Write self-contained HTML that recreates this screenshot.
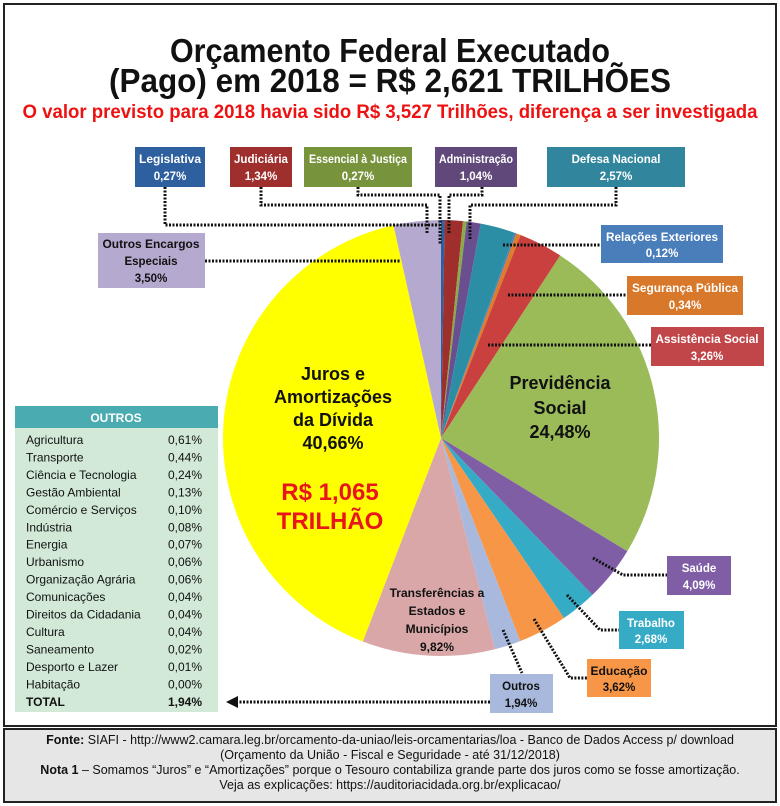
<!DOCTYPE html>
<html><head><meta charset="utf-8"><style>
html,body{margin:0;padding:0;background:#fff;}
svg{display:block;}
.c{font-family:"Liberation Sans Narrow","Liberation Sans",sans-serif;}
.s{font-family:"Liberation Sans",sans-serif;}
</style></head><body>
<svg id="sv" width="780" height="806" viewBox="0 0 780 806" xmlns="http://www.w3.org/2000/svg">
<rect x="0" y="0" width="780" height="806" fill="#fff"/>
<rect x="4" y="4" width="772" height="722" fill="#fff" stroke="#222" stroke-width="2"/>
<rect x="4" y="729" width="772" height="73" fill="#e6e6e6" stroke="#222" stroke-width="2"/>
<text class="c" x="390" y="62" font-size="33" font-weight="bold" text-anchor="middle" fill="#111" textLength="440" lengthAdjust="spacingAndGlyphs">Orçamento Federal Executado</text>
<text class="c" x="390" y="92" font-size="33" font-weight="bold" text-anchor="middle" fill="#111" textLength="562" lengthAdjust="spacingAndGlyphs">(Pago) em 2018 = R$ 2,621 TRILHÕES</text>
<text class="c" x="390" y="118" font-size="19" font-weight="bold" text-anchor="middle" fill="#ee1111" textLength="735" lengthAdjust="spacingAndGlyphs">O valor previsto para 2018 havia sido R$ 3,527 Trilhões, diferença a ser investigada</text>
<g id="pie"></g>
<g fill="none" stroke="#111" stroke-width="3" stroke-dasharray="2,1.5">
<polyline points="165,187 165,225 440,225"/>
<polyline points="261,187 261,205 427,205 427,233"/>
<polyline points="358,187 358,195 440,195 440,245"/>
<polyline points="482,187 482,195 449,195 449,233"/>
<polyline points="616,187 616,205 470,205 470,240"/>
<polyline points="503,245 601,245"/>
<polyline points="508,295 627,295"/>
<polyline points="488,345 651,345"/>
<polyline points="205,261 400,261"/>
<polyline points="593,558 623,575 667,575"/>
<polyline points="567,595 600,630 619,630"/>
<polyline points="534,619 570,678 587,678"/>
<polyline points="503,630 522,673"/>
<polyline points="490,702 236,702"/>
</g>
<polygon points="226,702 238,696 238,708" fill="#111"/>
<g class="s" font-weight="bold" font-size="11.5" fill="#fff" text-anchor="middle">
<rect x="135" y="147" width="70" height="40" fill="#2e5f9e"/><text x="170" y="163" textLength="62" lengthAdjust="spacingAndGlyphs">Legislativa</text><text x="170" y="180">0,27%</text>
<rect x="230" y="147" width="62" height="40" fill="#9e2f2c"/><text x="261" y="163" textLength="54" lengthAdjust="spacingAndGlyphs">Judiciária</text><text x="261" y="180">1,34%</text>
<rect x="304" y="147" width="108" height="40" fill="#77933c"/><text x="358" y="163" textLength="98" lengthAdjust="spacingAndGlyphs">Essencial à Justiça</text><text x="358" y="180">0,27%</text>
<rect x="435" y="147" width="82" height="40" fill="#60497a"/><text x="476" y="163" textLength="74" lengthAdjust="spacingAndGlyphs">Administração</text><text x="476" y="180">1,04%</text>
<rect x="547" y="147" width="138" height="40" fill="#31859c"/><text x="616" y="163">Defesa Nacional</text><text x="616" y="180">2,57%</text>
<rect x="601" y="225" width="122" height="38" fill="#4a7ebb"/><text x="662" y="241" textLength="112" lengthAdjust="spacingAndGlyphs">Relações Exteriores</text><text x="662" y="257">0,12%</text>
<rect x="627" y="276" width="116" height="39" fill="#d8782a"/><text x="685" y="292" textLength="106" lengthAdjust="spacingAndGlyphs">Segurança Pública</text><text x="685" y="309">0,34%</text>
<rect x="651" y="327" width="113" height="39" fill="#c0464a"/><text x="707" y="343" textLength="103" lengthAdjust="spacingAndGlyphs">Assistência Social</text><text x="707" y="360">3,26%</text>
<rect x="667" y="556" width="64" height="39" fill="#7f5ea5"/><text x="699" y="572">Saúde</text><text x="699" y="589">4,09%</text>
<rect x="619" y="611" width="65" height="38" fill="#36abc6"/><text x="651" y="627">Trabalho</text><text x="651" y="643">2,68%</text>
<g fill="#111">
<rect x="98" y="233" width="107" height="55" fill="#b6a9cf"/><text x="151" y="248" textLength="97" lengthAdjust="spacingAndGlyphs">Outros Encargos</text><text x="151" y="265">Especiais</text><text x="151" y="282">3,50%</text>
<rect x="587" y="659" width="64" height="38" fill="#f79646"/><text x="619" y="675" textLength="57" lengthAdjust="spacingAndGlyphs">Educação</text><text x="619" y="691">3,62%</text>
<rect x="490" y="674" width="63" height="39" fill="#a9b9dd"/><text x="521" y="690">Outros</text><text x="521" y="707">1,94%</text>
</g>
</g>
<g class="s" font-weight="bold" text-anchor="middle" fill="#111">
<text x="333" y="380" font-size="18">Juros e</text>
<text x="333" y="403" font-size="18">Amortizações</text>
<text x="333" y="426" font-size="18">da Dívida</text>
<text x="333" y="449" font-size="18">40,66%</text>
<text x="330" y="500" font-size="24" fill="#e8161c">R$ 1,065</text>
<text x="330" y="529" font-size="24" fill="#e8161c">TRILHÃO</text>
<text x="560" y="389" font-size="18">Previdência</text>
<text x="560" y="414" font-size="18">Social</text>
<text x="560" y="438" font-size="18">24,48%</text>
<text x="437" y="597" font-size="12">Transferências a</text>
<text x="437" y="615" font-size="12">Estados e</text>
<text x="437" y="633" font-size="12">Municípios</text>
<text x="437" y="651" font-size="12">9,82%</text>
</g>
<rect x="15" y="406" width="203" height="306" fill="#d2e9d7"/>
<rect x="15" y="406" width="203" height="22" fill="#4aabb0"/>
<text class="s" x="116" y="422" font-size="12" font-weight="bold" fill="#fff" text-anchor="middle">OUTROS</text>
<g id="tbl" class="s" font-size="12" fill="#111"></g>
<g class="c" font-size="12.5" fill="#111" text-anchor="middle">
<text x="390" y="744"><tspan font-weight="bold">Fonte:</tspan> SIAFI - http://www2.camara.leg.br/orcamento-da-uniao/leis-orcamentarias/loa - Banco de Dados Access p/ download</text>
<text x="390" y="759">(Orçamento da União - Fiscal e Seguridade - até 31/12/2018)</text>
<text x="390" y="774"><tspan font-weight="bold">Nota 1</tspan> – Somamos “Juros” e “Amortizações” porque o Tesouro contabiliza grande parte dos juros como se fosse amortização.</text>
<text x="390" y="789">Veja as explicações: https://auditoriacidada.org.br/explicacao/</text>
</g>
</svg>
<script>
(function(){
var NS="http://www.w3.org/2000/svg";
var d=[[0.27,"#2e5f9e"],[1.34,"#9e2f2c"],[0.27,"#8aab48"],[1.04,"#6a4f90"],[2.57,"#2b8ea5"],[0.12,"#4a7ebb"],[0.34,"#e07b2a"],[3.26,"#c9403f"],[24.48,"#9bbb59"],[4.09,"#7f5ea5"],[2.68,"#36abc6"],[3.62,"#f79646"],[1.94,"#a9b9dd"],[9.82,"#d9a7a7"],[40.66,"#ffff00"],[3.50,"#b6a9cf"]];
var cx=441,cy=438,r=218,a=0,g=document.getElementById("pie");
d.forEach(function(s){var a0=a*Math.PI*2/100;a+=s[0];var a1=a*Math.PI*2/100;
var x0=cx+r*Math.sin(a0),y0=cy-r*Math.cos(a0),x1=cx+r*Math.sin(a1),y1=cy-r*Math.cos(a1);
var p=document.createElementNS(NS,"path");
p.setAttribute("d","M"+cx+","+cy+"L"+x0+","+y0+"A"+r+","+r+" 0 "+(s[0]>50?1:0)+" 1 "+x1+","+y1+"Z");
p.setAttribute("fill",s[1]);g.appendChild(p);});
var t=[["Agricultura","0,61%"],["Transporte","0,44%"],["Ciência e Tecnologia","0,24%"],["Gestão Ambiental","0,13%"],["Comércio e Serviços","0,10%"],["Indústria","0,08%"],["Energia","0,07%"],["Urbanismo","0,06%"],["Organização Agrária","0,06%"],["Comunicações","0,04%"],["Direitos da Cidadania","0,04%"],["Cultura","0,04%"],["Saneamento","0,02%"],["Desporto e Lazer","0,01%"],["Habitação","0,00%"],["TOTAL","1,94%"]];
var tb=document.getElementById("tbl");
t.forEach(function(r,i){var y=444+i*17.45;
[[r[0],26],[r[1],168]].forEach(function(c){var e=document.createElementNS(NS,"text");e.setAttribute("x",c[1]);e.setAttribute("y",y);if(i==15)e.setAttribute("font-weight","bold");e.textContent=c[0];tb.appendChild(e);});});
})();
</script>
</body></html>
